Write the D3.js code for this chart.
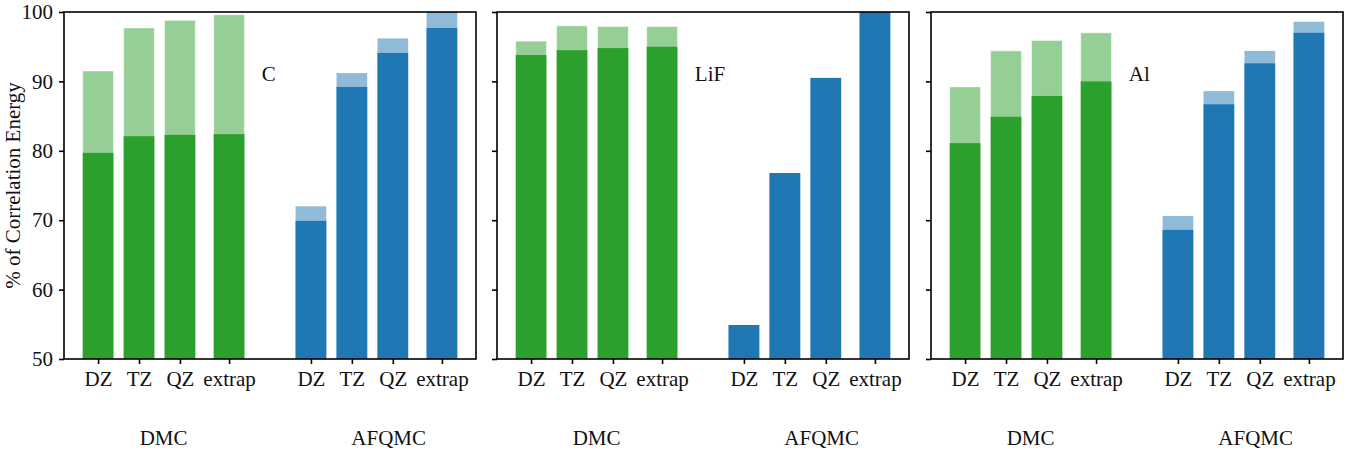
<!DOCTYPE html>
<html>
<head>
<meta charset="utf-8">
<script src="https://cdn.jsdelivr.net/npm/d3@7"></script>
<style>
  html, body { margin: 0; padding: 0; background: #fff; }
  svg { display: block; }
  svg text { font-family: 'Liberation Serif', 'DejaVu Serif', serif !important; fill: #111; }
</style>
</head>
<body>
<svg id="chart" width="1360" height="454"></svg>
<script>
// ---- data ----
const systems = ["C", "LiF", "Al"];
const categories = ["DZ", "TZ", "QZ", "extrap"];
const methods = ["DMC", "AFQMC"];
const yTicks = [50, 60, 70, 80, 90, 100];

// DMC: solid (dark) part and total (light) height
const dmcC      = [79.7, 82.1, 82.3, 82.4];
const dmcCTot   = [91.5, 97.7, 98.8, 99.6];
const dmcLiF    = [93.8, 94.5, 94.8, 95.0];
const dmcLiFTot = [95.8, 98.0, 97.9, 97.9];
const dmcAl     = [81.1, 84.9, 87.9, 90.0];
const dmcAlTot  = [89.2, 94.4, 95.9, 97.0];

// AFQMC: solid (dark) part and total (light) height
const afqmcC      = [69.9, 89.2, 94.1, 97.7];
const afqmcCTot   = [72.0, 91.2, 96.2, 100.5];
const afqmcLiF    = [54.9, 76.8, 90.5, 100.5];
const afqmcLiFTot = [54.9, 76.8, 90.5, 100.5];
const afqmcAl     = [68.6, 86.7, 92.6, 97.0];
const afqmcAlTot  = [70.6, 88.6, 94.4, 98.6];

const panelData = [
  { name: systems[0], dmc: dmcC,   dmcTot: dmcCTot,   afq: afqmcC,   afqTot: afqmcCTot },
  { name: systems[1], dmc: dmcLiF, dmcTot: dmcLiFTot, afq: afqmcLiF, afqTot: afqmcLiFTot },
  { name: systems[2], dmc: dmcAl,  dmcTot: dmcAlTot,  afq: afqmcAl,  afqTot: afqmcAlTot }
];

// ---- layout ----
const panelLefts = [64, 497, 931];
const panelW = 412;
const plotTop = 12, plotBottom = 359;
const xPos = [0, 1, 2, 3.2];       // category slots within a method group
const groupShift = 5.2;            // AFQMC group offset
const groupLabelX = [1.6, 7.1];
const barW = 0.75;
const green = "#2ca02c", blue = "#1f77b4";
const fontSize = 21;
const FONT = "'Liberation Serif', 'DejaVu Serif', serif";

const svg = d3.select("#chart");
const y = d3.scaleLinear().domain([50, 100]).range([plotBottom, plotTop]);

panelData.forEach((p, i) => {
  const left = panelLefts[i];
  const x = d3.scaleLinear().domain([-0.8325, 9.2325]).range([left, left + panelW]);
  const g = svg.append("g");

  const clipId = "clip" + i;
  svg.append("clipPath").attr("id", clipId)
    .append("rect").attr("x", left).attr("y", plotTop).attr("width", panelW).attr("height", plotBottom - plotTop);

  const bars = g.append("g").attr("clip-path", `url(#${clipId})`);

  const groups = [
    { vals: p.dmc, tot: p.dmcTot, color: green, shift: 0, edge: "rgba(255,255,255,0.45)" },
    { vals: p.afq, tot: p.afqTot, color: blue, shift: groupShift, edge: "none" }
  ];
  groups.forEach(gr => {
    const bx = k => x(xPos[k] + gr.shift - barW / 2);
    const bw = k => x(xPos[k] + gr.shift + barW / 2) - x(xPos[k] + gr.shift - barW / 2);
    bars.selectAll(null).data(gr.tot).enter().append("rect")
      .attr("x", (d, k) => bx(k)).attr("width", (d, k) => bw(k))
      .attr("y", d => y(d)).attr("height", d => y(50) - y(d))
      .attr("fill", gr.color).attr("fill-opacity", 0.5)
      .attr("stroke", gr.edge).attr("stroke-width", 1);
    bars.selectAll(null).data(gr.vals).enter().append("rect")
      .attr("x", (d, k) => bx(k)).attr("width", (d, k) => bw(k))
      .attr("y", d => y(d)).attr("height", d => y(50) - y(d))
      .attr("fill", gr.color);
  });

  const tickVals = [];
  const tickLabels = [];
  methods.forEach((m, mi) => {
    categories.forEach((c, k) => {
      tickVals.push(xPos[k] + mi * groupShift);
      tickLabels.push(c);
    });
  });
  const xAxis = d3.axisBottom(x).tickValues(tickVals)
    .tickFormat((d, k) => tickLabels[k]).tickSize(5).tickPadding(7);
  const xa = g.append("g").attr("transform", `translate(0,${plotBottom})`).call(xAxis)
    .attr("font-family", FONT).attr("font-size", fontSize);
  xa.select(".domain").remove();
  xa.selectAll(".tick line").attr("stroke", "#000").attr("stroke-width", 1.6);
  xa.selectAll(".tick text").attr("fill", "#111");

  methods.forEach((m, mi) => {
    g.append("text").attr("x", x(groupLabelX[mi])).attr("y", 445)
      .attr("text-anchor", "middle").attr("font-size", fontSize).text(m);
  });

  const yAxis = d3.axisLeft(y).tickValues(yTicks).tickSize(5).tickPadding(6)
    .tickFormat(i === 0 ? d3.format("d") : () => "");
  const ya = g.append("g").attr("transform", `translate(${left},0)`).call(yAxis)
    .attr("font-family", FONT).attr("font-size", fontSize);
  ya.select(".domain").remove();
  ya.selectAll(".tick line").attr("stroke", "#000").attr("stroke-width", 1.6);
  ya.selectAll(".tick text").attr("fill", "#111");

  g.append("rect").attr("x", left).attr("y", plotTop).attr("width", panelW).attr("height", plotBottom - plotTop)
    .attr("fill", "none").attr("stroke", "#000").attr("stroke-width", 1.6);

  g.append("text").attr("x", x(4)).attr("y", y(90))
    .attr("font-size", fontSize).text(p.name);
});

svg.append("text")
  .attr("transform", `translate(20,${(plotTop + plotBottom) / 2}) rotate(-90)`)
  .attr("text-anchor", "middle").attr("font-size", fontSize)
  .text("% of Correlation Energy");
</script>
</body>
</html>
